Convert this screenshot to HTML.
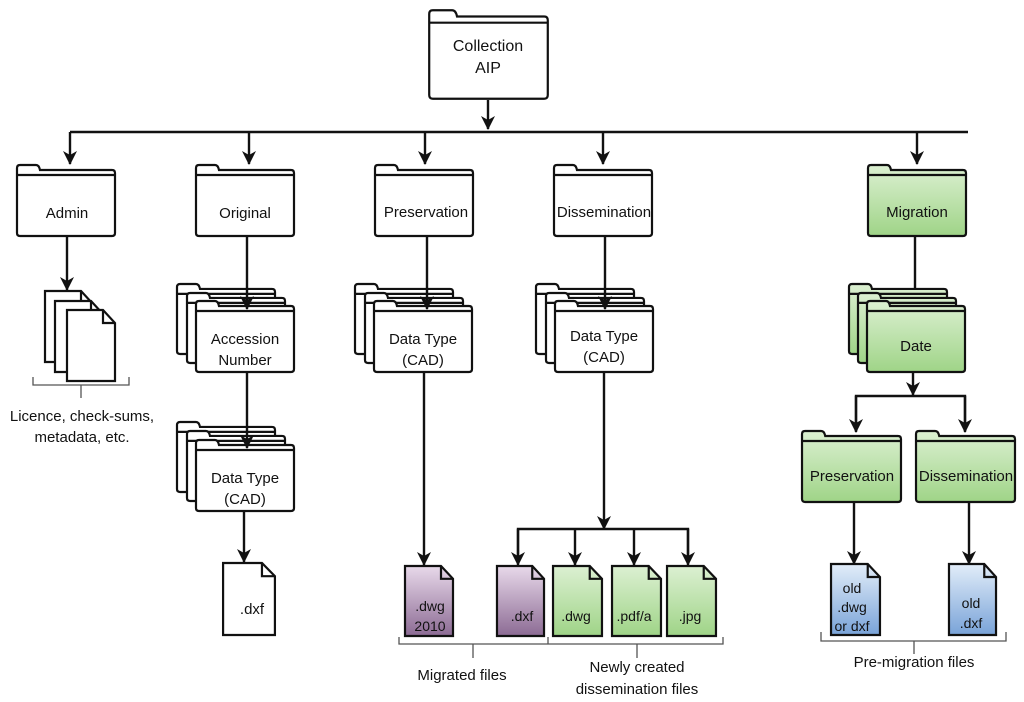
<!DOCTYPE html>
<html><head><meta charset="utf-8"><style>
html,body{margin:0;padding:0;background:#fff;}
svg{display:block;}
text{font-family:"Liberation Sans",Arial,sans-serif;font-size:15px;fill:#111;text-anchor:middle;}
.f{stroke:#111;stroke-width:2.2;vector-effect:non-scaling-stroke;}
.l{stroke:#111;stroke-width:2.4;fill:none;}
.b{stroke:#555;stroke-width:1.3;fill:none;}
</style></head><body>
<svg width="1024" height="702" viewBox="0 0 1024 702" xmlns="http://www.w3.org/2000/svg">
<defs>
<marker id="a" viewBox="0 0 14 14" refX="13" refY="7" markerWidth="14" markerHeight="14" orient="auto" markerUnits="userSpaceOnUse">
<path d="M0,0 L14,7 L0,14 L4,7 Z" fill="#111"/></marker>
<linearGradient id="g" x1="0" y1="0" x2="0" y2="1"><stop offset="0" stop-color="#dcf0d2"/><stop offset="1" stop-color="#9fd487"/></linearGradient>
<linearGradient id="p" x1="0" y1="0" x2="0" y2="1"><stop offset="0" stop-color="#e8d9ea"/><stop offset="1" stop-color="#8c6b94"/></linearGradient>
<linearGradient id="bl" x1="0" y1="0" x2="0" y2="1"><stop offset="0" stop-color="#e2edf9"/><stop offset="1" stop-color="#79a3d8"/></linearGradient>
<symbol id="fd" viewBox="0 0 100 73" preserveAspectRatio="none" overflow="visible">
<path class="f" d="M4,72 Q1,72 1,69 V4 Q1,1 4,1 H20 Q23,1 24,6 H96 Q99,6 99,9 V69 Q99,72 96,72 Z"/>
<path class="f" d="M1,11 H99" fill="none"/>
</symbol>
<symbol id="dc" viewBox="0 0 50 73" preserveAspectRatio="none" overflow="visible">
<path class="f" d="M1,1 H37 L49,14 V72 H1 Z"/>
<path class="f" d="M37,1 V14 H49" fill="none"/>
</symbol>
</defs>

<!-- Collection -->
<use href="#fd" x="428" y="9" width="121" height="91" fill="#fff"/>
<text x="488" y="51" style="font-size:16px">Collection</text><text x="488" y="73" style="font-size:16px">AIP</text>
<line class="l" x1="488" y1="100" x2="488" y2="129" marker-end="url(#a)"/>
<path class="l" d="M70,132 H968"/>
<line class="l" x1="70" y1="132" x2="70" y2="164" marker-end="url(#a)"/>
<line class="l" x1="249" y1="132" x2="249" y2="164" marker-end="url(#a)"/>
<line class="l" x1="425" y1="132" x2="425" y2="164" marker-end="url(#a)"/>
<line class="l" x1="603" y1="132" x2="603" y2="164" marker-end="url(#a)"/>
<line class="l" x1="917" y1="132" x2="917" y2="164" marker-end="url(#a)"/>

<!-- Level 1 -->
<use href="#fd" x="16" y="164" width="100" height="73" fill="#fff"/><text x="67" y="218">Admin</text>
<use href="#fd" x="195" y="164" width="100" height="73" fill="#fff"/><text x="245" y="218">Original</text>
<use href="#fd" x="374" y="164" width="100" height="73" fill="#fff"/><text x="426" y="217">Preservation</text>
<use href="#fd" x="553" y="164" width="100" height="73" fill="#fff"/><text x="604" y="217">Dissemination</text>
<use href="#fd" x="867" y="164" width="100" height="73" fill="url(#g)"/><text x="917" y="217">Migration</text>

<!-- Admin docs -->
<line class="l" x1="67" y1="237" x2="67" y2="290" marker-end="url(#a)"/>
<use href="#dc" x="44" y="290" width="50" height="73" fill="#fff"/>
<use href="#dc" x="54" y="300" width="50" height="73" fill="#fff"/>
<use href="#dc" x="66" y="309" width="50" height="73" fill="#fff"/>
<path class="b" d="M33,377 V385 H129 V377 M81,385 V398"/>
<text x="82" y="421">Licence, check-sums,</text><text x="82" y="442">metadata, etc.</text>

<!-- Original -->
<use href="#fd" x="176" y="283" width="100" height="72" fill="#fff"/>
<use href="#fd" x="186" y="292" width="100" height="72" fill="#fff"/>
<use href="#fd" x="195" y="300" width="100" height="73" fill="#fff"/>
<text x="245" y="344">Accession</text><text x="245" y="365">Number</text>
<line class="l" x1="247" y1="237" x2="247" y2="309" marker-end="url(#a)"/>
<use href="#fd" x="176" y="421" width="100" height="72" fill="#fff"/>
<use href="#fd" x="186" y="430" width="100" height="72" fill="#fff"/>
<use href="#fd" x="195" y="439" width="100" height="73" fill="#fff"/>
<text x="245" y="483">Data Type</text><text x="245" y="504">(CAD)</text>
<line class="l" x1="247" y1="373" x2="247" y2="448" marker-end="url(#a)"/>
<line class="l" x1="244" y1="512" x2="244" y2="562" marker-end="url(#a)"/>
<use href="#dc" x="222" y="562" width="54" height="74" fill="#fff"/><text x="252" y="614">.dxf</text>

<!-- Preservation -->
<use href="#fd" x="354" y="283" width="100" height="72" fill="#fff"/>
<use href="#fd" x="364" y="292" width="100" height="72" fill="#fff"/>
<use href="#fd" x="373" y="300" width="100" height="73" fill="#fff"/>
<text x="423" y="344">Data Type</text><text x="423" y="365">(CAD)</text>
<line class="l" x1="427" y1="237" x2="427" y2="309" marker-end="url(#a)"/>
<line class="l" x1="424" y1="373" x2="424" y2="565" marker-end="url(#a)"/>
<use href="#dc" x="404" y="565" width="50" height="72" fill="url(#p)"/>
<text x="430" y="611" style="font-size:14px">.dwg</text><text x="430" y="631" style="font-size:14px">2010</text>

<!-- Dissemination -->
<use href="#fd" x="535" y="283" width="100" height="72" fill="#fff"/>
<use href="#fd" x="545" y="292" width="100" height="72" fill="#fff"/>
<use href="#fd" x="554" y="300" width="100" height="73" fill="#fff"/>
<text x="604" y="341">Data Type</text><text x="604" y="362">(CAD)</text>
<line class="l" x1="605" y1="237" x2="605" y2="309" marker-end="url(#a)"/>
<line class="l" x1="604" y1="373" x2="604" y2="529" marker-end="url(#a)"/>
<path class="l" d="M518,563 V529 H688 V563"/>
<line class="l" x1="518" y1="529" x2="518" y2="565" marker-end="url(#a)"/>
<line class="l" x1="575" y1="529" x2="575" y2="565" marker-end="url(#a)"/>
<line class="l" x1="634" y1="529" x2="634" y2="565" marker-end="url(#a)"/>
<line class="l" x1="688" y1="529" x2="688" y2="565" marker-end="url(#a)"/>
<use href="#dc" x="496" y="565" width="49" height="72" fill="url(#p)"/><text x="522" y="621" style="font-size:14px">.dxf</text>
<use href="#dc" x="552" y="565" width="51" height="72" fill="url(#g)"/><text x="576" y="621" style="font-size:14px">.dwg</text>
<use href="#dc" x="611" y="565" width="51" height="72" fill="url(#g)"/><text x="634" y="621" style="font-size:14px">.pdf/a</text>
<use href="#dc" x="666" y="565" width="51" height="72" fill="url(#g)"/><text x="690" y="621" style="font-size:14px">.jpg</text>
<path class="b" d="M399,637 V644 H723 V637 M548,637 V644 M473,644 V658 M637,644 V658"/>
<text x="462" y="680">Migrated files</text>
<text x="637" y="672">Newly created</text><text x="637" y="694">dissemination files</text>

<!-- Migration -->
<line class="l" x1="915" y1="237" x2="915" y2="309" marker-end="url(#a)"/>
<use href="#fd" x="848" y="283" width="100" height="72" fill="url(#g)"/>
<use href="#fd" x="857" y="292" width="100" height="72" fill="url(#g)"/>
<use href="#fd" x="866" y="300" width="100" height="73" fill="url(#g)"/>
<text x="916" y="351">Date</text>
<line class="l" x1="913" y1="373" x2="913" y2="395" marker-end="url(#a)"/>
<path class="l" d="M856,431 V396 H965 V431"/>
<line class="l" x1="856" y1="396" x2="856" y2="432" marker-end="url(#a)"/>
<line class="l" x1="965" y1="396" x2="965" y2="432" marker-end="url(#a)"/>
<use href="#fd" x="801" y="430" width="101" height="73" fill="url(#g)"/><text x="852" y="481">Preservation</text>
<use href="#fd" x="915" y="430" width="101" height="73" fill="url(#g)"/><text x="966" y="481">Dissemination</text>
<line class="l" x1="854" y1="503" x2="854" y2="564" marker-end="url(#a)"/>
<line class="l" x1="969" y1="503" x2="969" y2="564" marker-end="url(#a)"/>
<use href="#dc" x="830" y="563" width="51" height="73" fill="url(#bl)"/>
<text x="852" y="593" style="font-size:14px">old</text><text x="852" y="612" style="font-size:14px">.dwg</text><text x="852" y="631" style="font-size:14px">or dxf</text>
<use href="#dc" x="948" y="563" width="49" height="73" fill="url(#bl)"/>
<text x="971" y="608" style="font-size:14px">old</text><text x="971" y="628" style="font-size:14px">.dxf</text>
<path class="b" d="M821,632 V641 H1006 V632 M914,641 V654"/>
<text x="914" y="667">Pre-migration files</text>
</svg>
</body></html>
